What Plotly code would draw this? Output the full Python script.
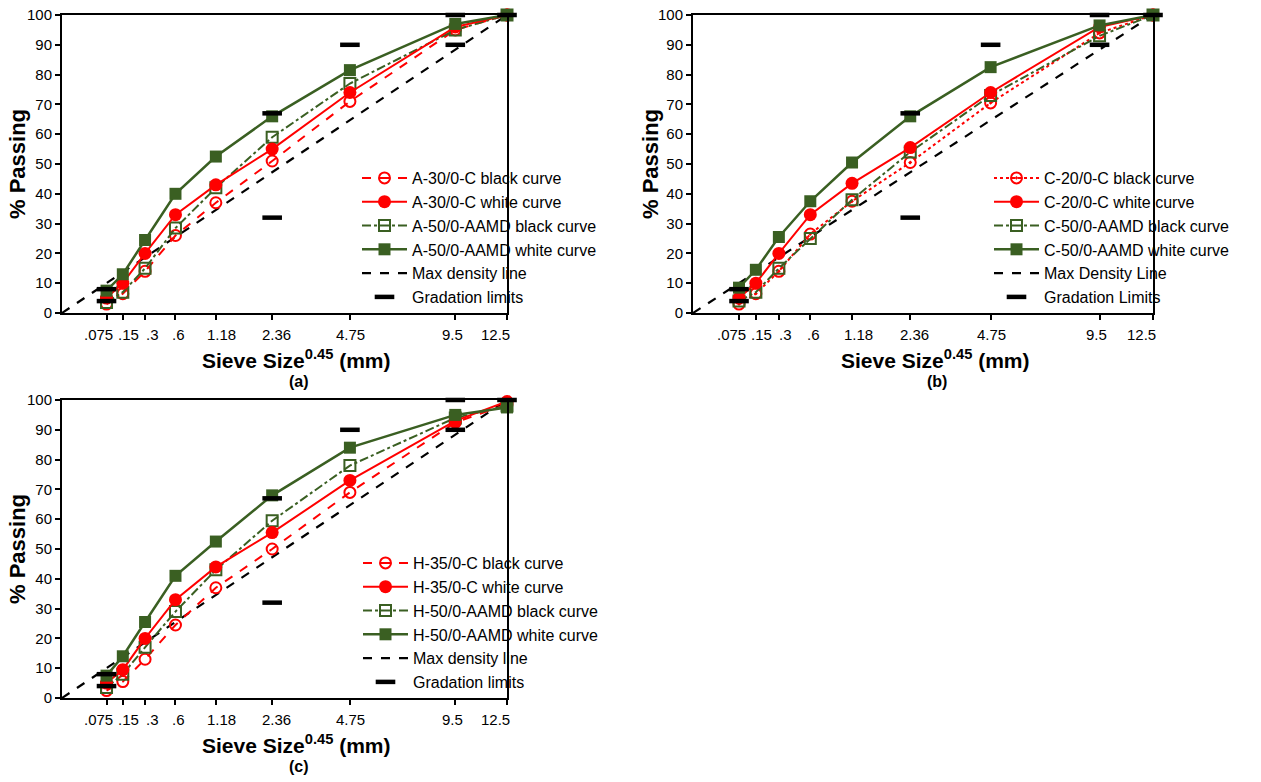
import plotly.graph_objects as go

# ---------------- data ----------------
sieves = [0.075, 0.15, 0.3, 0.6, 1.18, 2.36, 4.75, 9.5, 12.5]
sieve_labels = [".075", ".15", ".3", ".6", "1.18", "2.36", "4.75", "9.5", "12.5"]

# Panel (a)
a_names = ["A-30/0-C black curve", "A-30/0-C white curve",
           "A-50/0-AAMD black curve", "A-50/0-AAMD white curve"]
a_30_black = [3, 6.5, 14, 26, 37, 51, 71, 95, 100]
a_30_white = [5, 10, 20, 33, 43, 55, 74, 96, 100]
a_50_black = [3.5, 7, 15, 28.5, 42, 59, 77, 95, 100]
a_50_white = [7.5, 13, 24.5, 40, 52.5, 66, 81.5, 97, 100]

# Panel (b)
b_names = ["C-20/0-C black curve", "C-20/0-C white curve",
           "C-50/0-AAMD black curve", "C-50/0-AAMD white curve"]
b_20_black = [3, 6.5, 14, 26.5, 37.5, 50.5, 70.5, 94, 100]
b_20_white = [5, 10, 20, 33, 43.5, 55.5, 74, 96, 100]
b_50_black = [4, 7, 15, 25, 38, 54, 73, 93, 100]
b_50_white = [8.5, 14.5, 25.5, 37.5, 50.5, 66, 82.5, 96.5, 100]

# Panel (c)
c_names = ["H-35/0-C black curve", "H-35/0-C white curve",
           "H-50/0-AAMD black curve", "H-50/0-AAMD white curve"]
c_35_black = [2.5, 5.5, 13, 24.5, 37, 50, 69, 92.5, 98.5]
c_35_white = [5, 9.5, 20, 33, 44, 55.5, 73, 93, 99.5]
c_50_black = [3.5, 8, 17, 29, 43, 59.5, 78, 94, 98]
c_50_white = [7.5, 14, 25.5, 41, 52.5, 68, 84, 95, 97.5]

# Max density line and gradation limits
maxden_sieve = [0, 12.5]
maxden_pass = [0, 100]
limit_sieve = [0.075, 0.075, 2.36, 2.36, 4.75, 9.5, 9.5, 12.5]
limit_pass = [4, 8, 32, 67, 90, 90, 100, 100]

# ---------------- styling ----------------
RED = "#FF0000"
GREEN = "#3A5F22"
FONT = "Liberation Sans, Arial, sans-serif"
W, H = 1261, 782
label_shift = [-8, 6, 7, 3, 6, 4, 1, -3, -12]   # pixel nudges of tick labels


def p(v):
    return [s ** 0.45 for s in v]


panels = [
    dict(ax="", names=a_names, data=[a_30_black, a_30_white, a_50_black, a_50_white],
         black_dash="dash", black_sym="circle-open", leg="legend",
         maxname="Max density line", limname="Gradation limits",
         xdom=(62, 507), ydom=(15, 313), cap="(a)", ytx=17),
    dict(ax="2", names=b_names, data=[b_20_black, b_20_white, b_50_black, b_50_white],
         black_dash="dot", black_sym="circle-open-dot", leg="legend2",
         maxname="Max Density Line", limname="Gradation Limits",
         xdom=(693, 1153), ydom=(15, 313), cap="(b)", ytx=650),
    dict(ax="3", names=c_names, data=[c_35_black, c_35_white, c_50_black, c_50_white],
         black_dash="dash", black_sym="circle-open", leg="legend3",
         maxname="Max density line", limname="Gradation limits",
         xdom=(62, 507), ydom=(400, 698), cap="(c)", ytx=17),
]

fig = go.Figure()
layout = {}
annotations = []

for pn in panels:
    xa = "x" + pn["ax"]
    ya = "y" + pn["ax"]
    leg = pn["leg"]
    d = pn["data"]
    fig.add_trace(go.Scatter(x=p(maxden_sieve), y=maxden_pass, mode="lines",
                             line=dict(color="black", width=2.2, dash="dash"),
                             name=pn["maxname"], xaxis=xa, yaxis=ya, legend=leg,
                             legendrank=5, cliponaxis=False))
    fig.add_trace(go.Scatter(x=p(sieves), y=d[0], mode="lines+markers",
                             line=dict(color=RED, width=2, dash=pn["black_dash"]),
                             marker=dict(symbol=pn["black_sym"], size=11, color=RED,
                                         line=dict(width=2, color=RED)),
                             name=pn["names"][0], xaxis=xa, yaxis=ya, legend=leg,
                             legendrank=1, cliponaxis=False))
    fig.add_trace(go.Scatter(x=p(sieves), y=d[2], mode="lines+markers",
                             line=dict(color=GREEN, width=2, dash="dashdot"),
                             marker=dict(symbol="square-open", size=11, color=GREEN,
                                         line=dict(width=2, color=GREEN)),
                             name=pn["names"][2], xaxis=xa, yaxis=ya, legend=leg,
                             legendrank=3, cliponaxis=False))
    fig.add_trace(go.Scatter(x=p(sieves), y=d[1], mode="lines+markers",
                             line=dict(color=RED, width=2),
                             marker=dict(symbol="circle", size=13, color=RED),
                             name=pn["names"][1], xaxis=xa, yaxis=ya, legend=leg,
                             legendrank=2, cliponaxis=False))
    fig.add_trace(go.Scatter(x=p(sieves), y=d[3], mode="lines+markers",
                             line=dict(color=GREEN, width=2.5),
                             marker=dict(symbol="square", size=12, color=GREEN),
                             name=pn["names"][3], xaxis=xa, yaxis=ya, legend=leg,
                             legendrank=4, cliponaxis=False))
    fig.add_trace(go.Scatter(x=p(limit_sieve), y=limit_pass, mode="markers",
                             marker=dict(symbol="line-ew", size=14,
                                         line=dict(width=4.5, color="black")),
                             name=pn["limname"], xaxis=xa, yaxis=ya, legend=leg,
                             legendrank=6, cliponaxis=False))

    x0, x1 = pn["xdom"]
    y0, y1 = pn["ydom"]
    xkey = "xaxis" + pn["ax"]
    ykey = "yaxis" + pn["ax"]
    layout[xkey] = dict(
        domain=[x0 / W, x1 / W], anchor=ya, range=[0, 12.5 ** 0.45],
        tickmode="array", tickvals=p(sieves), showticklabels=False,
        showline=True, linecolor="black", linewidth=2, mirror=True,
        ticks="outside", ticklen=5, tickwidth=1.5, tickcolor="black",
        showgrid=False, zeroline=False, automargin=False,
    )
    layout[ykey] = dict(
        domain=[1 - y1 / H, 1 - y0 / H], anchor=xa, range=[0, 100],
        tickmode="linear", tick0=0, dtick=10,
        showline=True, linecolor="black", linewidth=2, mirror=True,
        ticks="outside", ticklen=5, tickwidth=1.5, tickcolor="black",
        showgrid=False, zeroline=False, automargin=False,
        tickfont=dict(family=FONT, size=15, color="black"),
    )
    for xv, lab, sh in zip(p(sieves), sieve_labels, label_shift):
        annotations.append(dict(text=lab, xref=xa, yref="paper", x=xv,
                                y=1 - (y1 + 21) / H, xshift=sh,
                                xanchor="center", yanchor="middle", showarrow=False,
                                font=dict(family=FONT, size=15, color="black")))
    cx = (x0 + x1) / 2
    annotations.append(dict(text="<b>Sieve Size<sup>0.45</sup> (mm)</b>",
                            xref="paper", yref="paper",
                            x=(cx + 12) / W, y=1 - (y1 + 46) / H,
                            xanchor="center", yanchor="middle", showarrow=False,
                            font=dict(family=FONT, size=21, color="black")))
    annotations.append(dict(text="<b>% Passing</b>", xref="paper", yref="paper",
                            x=pn["ytx"] / W, y=1 - (y0 + y1) / 2 / H, textangle=-90,
                            xanchor="center", yanchor="middle", showarrow=False,
                            font=dict(family=FONT, size=22, color="black")))
    annotations.append(dict(text="<b>" + pn["cap"] + "</b>", xref="paper", yref="paper",
                            x=(cx + 14) / W, y=1 - (y1 + 68) / H,
                            xanchor="center", yanchor="middle", showarrow=False,
                            font=dict(family=FONT, size=16, color="black")))

legend_common = dict(bgcolor="rgba(0,0,0,0)", borderwidth=0,
                     font=dict(family=FONT, size=16, color="black"),
                     xanchor="left", yanchor="top", tracegroupgap=0,
                     itemsizing="trace", itemwidth=45)
layout["legend"] = dict(x=357 / W, y=1 - 161 / H, **legend_common)
layout["legend2"] = dict(x=989 / W, y=1 - 161 / H, **legend_common)
layout["legend3"] = dict(x=358 / W, y=1 - 546 / H, **legend_common)

fig.update_layout(
    width=W, height=H,
    margin=dict(l=0, r=0, t=0, b=0, autoexpand=False),
    paper_bgcolor="white", plot_bgcolor="white",
    showlegend=True,
    annotations=annotations,
    font=dict(family=FONT, color="black"),
    **layout,
)

fig.write_html("out.html", config={"displayModeBar": False},
               post_script="document.body.style.margin='0';document.body.style.padding='0';")
